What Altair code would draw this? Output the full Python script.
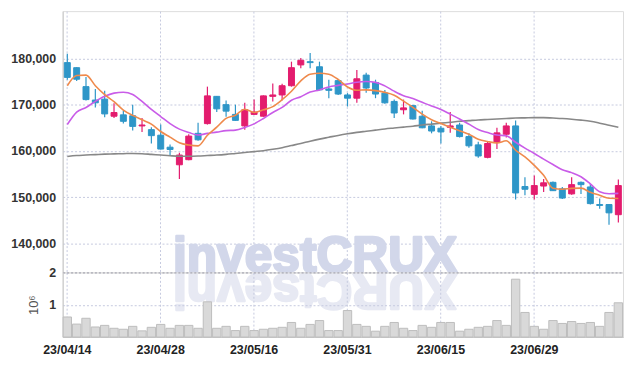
import altair as alt
import pandas as pd

dates = ["23/04/14","23/04/17","23/04/18","23/04/19","23/04/20","23/04/21","23/04/24","23/04/25","23/04/26","23/04/27",
         "23/04/28","23/05/02","23/05/03","23/05/04","23/05/08","23/05/09","23/05/10","23/05/11","23/05/12","23/05/15",
         "23/05/16","23/05/17","23/05/18","23/05/19","23/05/22","23/05/23","23/05/24","23/05/25","23/05/26","23/05/30",
         "23/05/31","23/06/01","23/06/02","23/06/05","23/06/07","23/06/08","23/06/09","23/06/12","23/06/13","23/06/14",
         "23/06/15","23/06/16","23/06/19","23/06/20","23/06/21","23/06/22","23/06/23","23/06/26","23/06/27","23/06/28",
         "23/06/29","23/06/30","23/07/03","23/07/04","23/07/05","23/07/06","23/07/07","23/07/10","23/07/11","23/07/12"]

opens = [179100,178000,173900,171000,171200,167500,167800,167600,165400,164600,
         163400,160800,157000,158100,163800,165900,171800,170000,167900,165400,
         167900,167500,171800,172100,174100,178600,179300,178200,173400,175200,
         172100,171400,176400,174800,172500,170700,168900,169800,167500,165400,
         164900,165100,165600,163100,161300,158600,161800,163600,165400,152300,
         150600,152400,153200,151800,150700,153200,152200,148400,148400,146200]
closes = [175900,175500,171100,170400,168000,168300,166400,165300,165600,163300,
          160400,160300,159100,163200,162400,171900,169100,168600,166600,168900,
          168400,171900,172100,174100,178000,179600,179100,173200,173100,172300,
          171400,175600,173600,172300,170400,168200,169300,166900,165000,164300,
          164100,165400,163100,161100,158900,161600,163900,165400,150900,151700,
          152500,153100,151400,149800,152700,152700,148600,148200,146600,152500]
highs = [181000,178100,176000,173400,173000,170300,168700,170000,167100,165100,
         165700,161400,159600,163600,166100,173900,171900,170900,170000,170400,
         171100,172000,174600,174500,179300,180100,181200,179300,175400,175500,
         172500,177500,176900,175400,173200,171100,171100,170000,168700,166400,
         165400,168400,166100,163800,162000,162000,165000,166100,166600,154300,
         154700,153900,153400,152200,154300,153400,152900,149700,148500,153800]
lows = [175400,175100,170900,169400,167300,167100,165900,164400,164100,161600,
        160300,159100,153900,158000,162200,165700,168400,167400,166500,164600,
        167800,167400,170700,170900,173900,177900,177900,173100,171400,172100,
        169600,170400,172600,171400,170200,167100,167900,166800,164900,163800,
        161600,163900,162900,160700,158500,158400,160400,162900,149500,150400,
        149500,151100,151300,149600,150500,150700,148400,147500,144000,144500]

ma5 = [174100,176300,176400,174100,172180,170660,168840,167680,166720,165780,
       164200,162980,161740,161260,161080,163380,165140,167040,167720,169020,
       168320,168880,169580,171080,172900,175140,176580,176800,176600,175460,
       173820,173120,173200,173040,172660,172020,170760,169420,167960,166740,
       165920,165140,164380,163600,162520,162020,161720,162180,160140,158700,
       156880,154720,151920,151700,151900,151940,151040,150400,149760,149720]
ma10 = [165700,168400,169400,170700,171800,172500,172700,172200,170700,168980,
        167430,165910,164710,163990,163430,163790,164060,164390,164490,165050,
        165850,167010,168310,169400,170960,171730,172730,173190,173840,174180,
        174480,174850,175000,174820,174060,172920,171940,171310,170500,169700,
        168970,167950,166900,165780,164630,163970,163430,163280,161870,160610,
        159450,158220,157050,155920,155300,154410,152880,151160,150730,150810]
ma60 = [158800,159000,159100,159200,159300,159350,159400,159450,159400,159250,
        159100,158950,158850,158850,158900,159000,159100,159250,159450,159650,
        159850,160050,160350,160700,161150,161600,162100,162550,162950,163350,
        163700,164000,164250,164500,164750,164950,165150,165350,165600,165800,
        166000,166200,166400,166550,166700,166800,166900,167000,167100,167150,
        167200,167200,167100,167000,166850,166650,166400,166000,165550,165100]
volume_m = [0.62,0.40,0.58,0.31,0.36,0.27,0.24,0.33,0.19,0.30,
            0.39,0.27,0.36,0.36,0.27,1.09,0.27,0.33,0.20,0.33,
            0.20,0.24,0.27,0.30,0.45,0.27,0.39,0.51,0.20,0.20,
            0.82,0.39,0.33,0.18,0.33,0.45,0.27,0.20,0.36,0.30,
            0.45,0.45,0.18,0.24,0.30,0.33,0.51,0.36,1.79,0.76,
            0.33,0.24,0.51,0.42,0.48,0.42,0.45,0.33,0.76,1.06]

tick_dates = ["23/04/14","23/04/28","23/05/16","23/05/31","23/06/15","23/06/29"]
price_ticks = [140000,150000,160000,170000,180000]
volume_ticks = [1,2]

FONT = "Liberation Sans"
WM_FONT = "Liberation Sans"
UP = "#e31c6e"
DOWN = "#2e96c8"
GRID = "#c6cadf"
WM_MAIN = "#d2d7ea"
WM_REFL = "#e7e9f3"

df = pd.DataFrame({"d": dates, "o": opens, "c": closes, "h": highs, "l": lows, "v": volume_m})
df["dir"] = ["up" if c >= o else "down" for o, c in zip(opens, closes)]

lines = pd.DataFrame({
    "d": dates * 3,
    "val": ma60 + ma10 + ma5,
    "s": ["ma60"] * 60 + ["ma10"] * 60 + ["ma5"] * 60,
})

xscale = alt.Scale(type="band", domain=dates, paddingInner=0, paddingOuter=0)
x_price = alt.X("d:O", scale=xscale, title=None,
                axis=alt.Axis(values=tick_dates, labels=False, ticks=False, domain=False,
                              grid=True, gridColor=GRID, gridDash=[2, 2]))
yscale = alt.Scale(domain=[133712, 190236], nice=False, zero=False)
y_axis = alt.Axis(values=price_ticks, format=",d", title=None, ticks=False, labelPadding=7,
                  labelFont=FONT, labelFontSize=12.5, labelFontWeight="bold", labelColor="#333",
                  grid=True, gridColor=GRID, gridDash=[2, 2], domainColor="#c8c8c8")
color_scale = alt.Scale(domain=["up", "down"], range=[UP, DOWN])

base = alt.Chart(df)

wm_df = pd.DataFrame({"t": ["investCRUX"], "r": ["XURCtsevni"]})
watermark = alt.Chart(wm_df).mark_text(
    font=WM_FONT, fontSize=50, fontWeight="bold", color=WM_MAIN, stroke=WM_MAIN, strokeWidth=2.5,
    strokeJoin="round", align="center", baseline="alphabetic"
).encode(x=alt.value(254), y=alt.value(262.5), text="t:N")
reflection = alt.Chart(wm_df).mark_text(
    font=WM_FONT, fontSize=50, fontWeight="bold", color=WM_REFL, stroke=WM_REFL, strokeWidth=2.5,
    strokeJoin="round", align="center", baseline="alphabetic", angle=180
).encode(x=alt.value(254), y=alt.value(264.5), text="r:N")

wick = base.mark_rule(strokeWidth=1.2).encode(
    x=x_price,
    y=alt.Y("l:Q", scale=yscale, axis=y_axis),
    y2="h:Q",
    color=alt.Color("dir:N", scale=color_scale, legend=None),
)
body = base.mark_bar(size=6, strokeWidth=1).encode(
    x=x_price,
    y=alt.Y("o:Q", scale=yscale, axis=y_axis),
    y2="c:Q",
    color=alt.Color("dir:N", scale=color_scale, legend=None),
    stroke=alt.Color("dir:N", scale=color_scale, legend=None),
)
ma_lines = alt.Chart(lines).mark_line(strokeWidth=1.6, interpolate="monotone").encode(
    x=x_price,
    y=alt.Y("val:Q", scale=yscale, axis=y_axis),
    color=alt.Color("s:N", scale=alt.Scale(domain=["ma60", "ma10", "ma5"],
                                            range=["#888888", "#c95ce8", "#ef8a4c"]), legend=None),
    detail="s:N",
)

price = alt.layer(watermark, reflection, wick, body, ma_lines).resolve_scale(color="independent").properties(
    width=564, height=263)

x_vol = alt.X("d:O", scale=xscale, title=None,
              axis=alt.Axis(values=tick_dates, labelAngle=0, ticks=False, labelPadding=7,
                            labelFont=FONT, labelFontSize=12.5, labelFontWeight="bold", labelColor="#222",
                            grid=True, gridColor=GRID, gridDash=[2, 2], domainColor="#c8c8c8"))
vol = base.mark_bar(size=8.4, color="#d9d9d9", stroke="#bdbdbd", strokeWidth=1).encode(
    x=x_vol,
    y=alt.Y("v:Q", scale=alt.Scale(domain=[0, 2], nice=False),
            axis=alt.Axis(values=volume_ticks, title="10⁶", titleFont=FONT, titleFontSize=13,
                          titleFontWeight="normal", titleColor="#555", titlePadding=8,
                          ticks=False, labelPadding=7, labelFont=FONT, labelFontSize=12.5,
                          labelFontWeight="bold", labelColor="#333", grid=True,
                          gridColor={"condition": {"test": "datum.value >= 2", "value": "#9a9aa8"},
                                     "value": GRID},
                          gridDash=[2, 2], domainColor="#c8c8c8")),
).properties(width=564, height=65)

chart = alt.vconcat(price, vol, spacing=0, bounds="flush").properties(
    padding={"left": 2, "top": 1, "right": 2, "bottom": 2}
).configure_view(stroke="#dddddd")

chart.save("out.html", embed_options={"renderer": "svg", "actions": False})
